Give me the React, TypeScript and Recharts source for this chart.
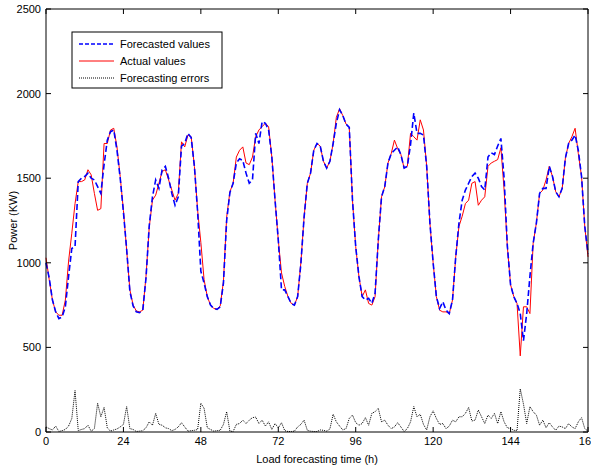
import React from "react";
import { LineChart, Line, XAxis, YAxis } from "recharts";

const FONT = '"Liberation Sans", Arial, Helvetica, sans-serif';

// hourly points over one week
const hours = Array.from({ length: 169 }, (_, i) => i);

// one row per day (24 h), last value is hour 168
const forecasted = [
  1000, 910, 780, 710, 670, 680, 740, 920, 1085, 1095, 1480, 1500, 1510, 1530, 1500, 1490, 1450, 1410, 1580, 1725, 1775, 1785, 1665, 1500,
  1300, 1080, 830, 745, 710, 705, 720, 910, 1220, 1390, 1490, 1440, 1550, 1570, 1500, 1410, 1340, 1390, 1690, 1705, 1765, 1740, 1570, 1300,
  950, 880, 800, 750, 730, 725, 740, 880, 1250, 1415, 1470, 1590, 1615, 1605, 1530, 1470, 1490, 1765, 1705, 1835, 1825, 1785, 1625, 1370,
  1135, 840, 840, 800, 760, 750, 800, 995, 1270, 1470, 1530, 1665, 1705, 1690, 1600, 1560, 1600, 1705, 1825, 1905, 1870, 1820, 1800, 1370,
  1095, 918, 800, 780, 790, 760, 820, 1135, 1390, 1450, 1590, 1645, 1665, 1685, 1640, 1560, 1570, 1700, 1885, 1765, 1765, 1755, 1570, 1235,
  1000, 800, 730, 770, 720, 700, 780, 1035, 1235, 1370, 1430, 1470, 1510, 1530, 1500, 1450, 1430, 1625, 1650, 1640, 1690, 1735, 1500, 1100,
  870, 800, 760, 700, 540, 700, 920, 1115, 1235, 1410, 1440, 1440, 1570, 1510, 1420, 1390, 1440, 1620, 1705, 1725, 1755, 1665, 1510, 1215,
  1055,
];

const actual = [
  1030, 900, 780, 710, 690, 690, 780, 1010, 1175, 1350, 1480, 1480, 1490, 1550, 1520, 1410, 1310, 1320, 1705, 1705, 1785, 1795, 1685, 1510,
  1310, 1075, 840, 750, 715, 710, 720, 920, 1210, 1370, 1400, 1470, 1540, 1550, 1490, 1430, 1370, 1410, 1715, 1685, 1755, 1745, 1570, 1310,
  1120, 900, 800, 750, 730, 725, 745, 890, 1270, 1420, 1470, 1625, 1665, 1685, 1590, 1580, 1625, 1745, 1785, 1805, 1825, 1805, 1625, 1370,
  1135, 940, 860, 800, 760, 750, 800, 1000, 1270, 1470, 1530, 1665, 1705, 1690, 1600, 1560, 1600, 1705, 1860, 1910, 1870, 1820, 1800, 1370,
  1095, 918, 800, 840, 760, 750, 800, 1135, 1390, 1450, 1590, 1645, 1725, 1675, 1640, 1560, 1570, 1765, 1745, 1725, 1845, 1785, 1570, 1235,
  1000, 800, 720, 710, 710, 700, 780, 1035, 1215, 1275, 1350, 1370, 1470, 1480, 1340, 1370, 1390, 1570, 1590, 1600, 1610, 1680, 1430, 1095,
  870, 800, 760, 450, 740, 740, 700, 1115, 1235, 1410, 1430, 1490, 1570, 1510, 1420, 1390, 1440, 1620, 1705, 1745, 1795, 1645, 1510, 1215,
  1035,
];

const errors = [
  30, 20, 12, 35, 3, 8, 15, 35, 80, 245, 8, 15, 20, 40, 5, 20, 170, 90, 145, 25, 5, 12, 18, 30,
  45, 150, 20, 15, 3, 5, 8, 25, 60, 40, 110, 45, 40, 25, 20, 8, 15, 30, 55, 30, 5, 8, 10, 15,
  170, 140, 25, 15, 5, 8, 10, 45, 120, 5, 3, 45, 50, 70, 50, 70, 85, 88, 50, 70, 35, 60, 15, 50,
  25, 55, 8, 3, 3, 5, 30, 45, 70, 10, 5, 3, 3, 12, 10, 5, 18, 105, 60, 35, 12, 20, 80, 100,
  55, 40, 50, 85, 40, 110, 120, 140, 60, 70, 40, 20, 30, 55, 30, 3, 20, 60, 150, 90, 105, 45, 12, 90,
  125, 80, 45, 50, 20, 35, 70, 60, 90, 90, 110, 145, 65, 70, 130, 90, 50, 100, 80, 110, 50, 120, 60, 25,
  20, 10, 8, 255, 165, 50, 150, 120, 100, 40, 70, 25, 55, 30, 10, 35, 30, 20, 50, 30, 20, 60, 85, 20,
  5,
];

const xTicks = [0, 24, 48, 72, 96, 120, 144, 168];
const yTicks = [0, 500, 1000, 1500, 2000, 2500];
const seriesNames = ["Forecasted values", "Actual values", "Forecasting errors"];

const data = hours.map((h, i) => ({
  hour: h,
  forecasted: forecasted[i],
  actual: actual[i],
  error: errors[i],
}));

const tickText = { fill: "#000", fontSize: 11, fontFamily: FONT };
const blank = () => "";

function LegendBox() {
  const rows = [
    { name: seriesNames[0], stroke: "#0000ff", dash: "4 2", width: 1.6 },
    { name: seriesNames[1], stroke: "#ff0000", dash: undefined, width: 1 },
    { name: seriesNames[2], stroke: "#000", dash: "1 1", width: 1 },
  ];
  return (
    <svg width={152} height={58} style={{ position: "absolute", left: 71, top: 31 }}>
      <rect x={1} y={1} width={150} height={56} fill="#fff" stroke="#000" strokeWidth={1} />
      {rows.map((r, i) => (
        <g key={r.name}>
          <line x1={8} x2={43} y1={13 + i * 17} y2={13 + i * 17} stroke={r.stroke} strokeWidth={r.width} strokeDasharray={r.dash} />
          <text x={49} y={17 + i * 17} fontSize={11} fontFamily={FONT} fill="#000">
            {r.name}
          </text>
        </g>
      ))}
    </svg>
  );
}

export default function App() {
  return (
    <div style={{ position: "absolute", left: 0, top: 0, width: 591, height: 466, background: "#fff" }}>
      <LineChart width={591} height={466} data={data} margin={{ top: 9, right: 3, bottom: 0, left: 0 }}>
        <XAxis
          xAxisId="x"
          dataKey="hour"
          type="number"
          domain={[0, 168]}
          ticks={xTicks}
          interval={0}
          height={34}
          tickLine={false}
          tickSize={0}
          tickMargin={5}
          axisLine={{ stroke: "#000" }}
          tick={tickText}
          label={{ value: "Load forecasting time (h)", position: "insideBottom", offset: 3, fill: "#000", fontSize: 11, fontFamily: FONT }}
        />
        <XAxis xAxisId="xIn" dataKey="hour" type="number" domain={[0, 168]} allowDataOverflow ticks={xTicks} interval={0} mirror tickSize={5} tickFormatter={blank} axisLine={false} tickLine={{ stroke: "#000" }} />
        <XAxis xAxisId="xTop" orientation="top" dataKey="hour" type="number" domain={[0, 168]} allowDataOverflow ticks={xTicks} interval={0} mirror tickSize={5} tickFormatter={blank} axisLine={{ stroke: "#000" }} tickLine={{ stroke: "#000" }} />
        <YAxis
          yAxisId="y"
          type="number"
          domain={[0, 2500]}
          ticks={yTicks}
          interval={0}
          width={46}
          tickLine={false}
          tickSize={0}
          tickMargin={5}
          axisLine={{ stroke: "#000" }}
          tick={tickText}
          label={{ value: "Power (KW)", angle: -90, position: "insideLeft", offset: 13, fill: "#000", fontSize: 11, fontFamily: FONT, style: { textAnchor: "middle" } }}
        />
        <YAxis yAxisId="yIn" type="number" domain={[0, 2500]} allowDataOverflow ticks={yTicks} interval={0} mirror tickSize={5} tickFormatter={blank} axisLine={false} tickLine={{ stroke: "#000" }} />
        <YAxis yAxisId="yRight" orientation="right" type="number" domain={[0, 2500]} allowDataOverflow ticks={yTicks} interval={0} mirror tickSize={5} tickFormatter={blank} axisLine={{ stroke: "#000" }} tickLine={{ stroke: "#000" }} />
        <Line xAxisId="x" yAxisId="y" dataKey="error" name={seriesNames[2]} type="linear" stroke="#000" strokeWidth={1} strokeDasharray="1 1" dot={false} isAnimationActive={false} />
        <Line xAxisId="x" yAxisId="y" dataKey="actual" name={seriesNames[1]} type="linear" stroke="#ff0000" strokeWidth={1} dot={false} isAnimationActive={false} />
        <Line xAxisId="x" yAxisId="y" dataKey="forecasted" name={seriesNames[0]} type="linear" stroke="#0000ff" strokeWidth={1.6} strokeDasharray="6 3" dot={false} isAnimationActive={false} />
      </LineChart>
      <LegendBox />
    </div>
  );
}
